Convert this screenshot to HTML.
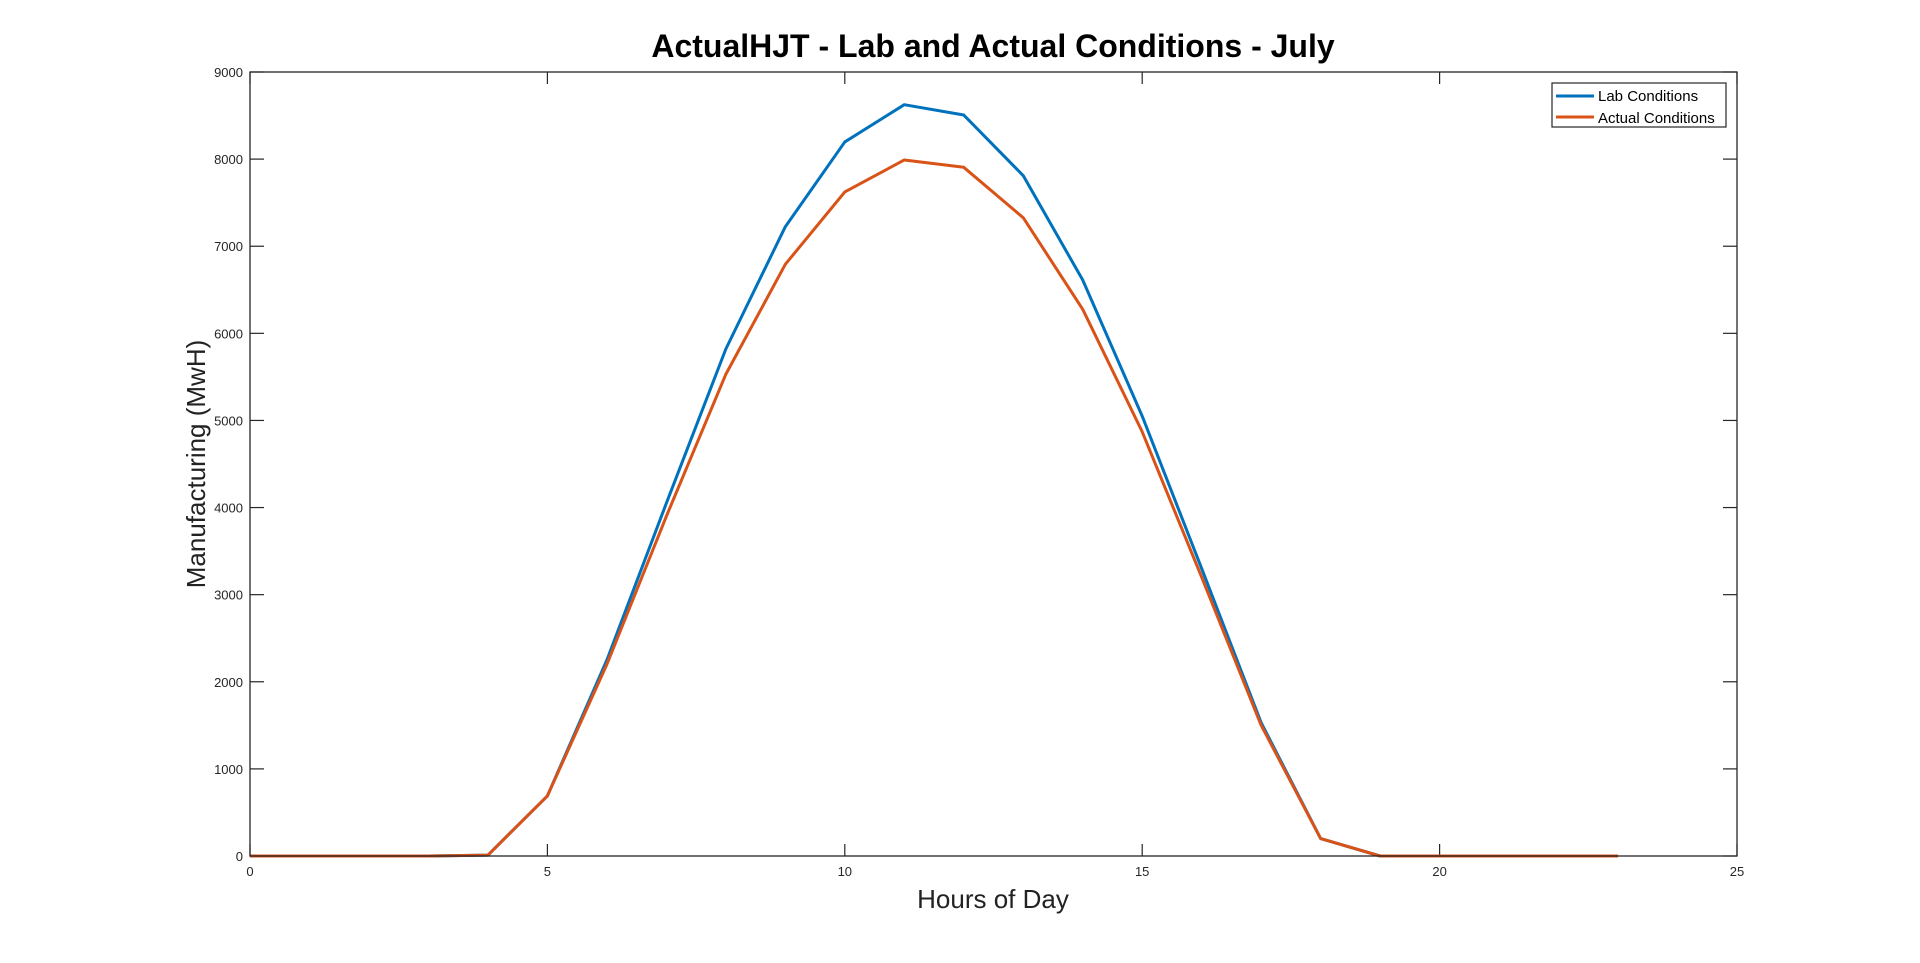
<!DOCTYPE html>
<html><head><meta charset="utf-8"><style>
html,body{margin:0;padding:0;background:#fff;}
svg{display:block;font-family:"Liberation Sans",Arial,sans-serif;}
</style></head><body>
<svg id="chart" width="1920" height="963" viewBox="0 0 1920 963" xmlns="http://www.w3.org/2000/svg">
<rect x="0" y="0" width="1920" height="963" fill="#fff"/>
<text x="993" y="57" text-anchor="middle" font-size="32" font-weight="bold" fill="#000">ActualHJT - Lab and Actual Conditions - July</text>
<text x="993" y="908" text-anchor="middle" font-size="26" fill="#222">Hours of Day</text>
<text transform="translate(205,464) rotate(-90)" text-anchor="middle" font-size="26" fill="#222">Manufacturing (MwH)</text>
<g id="ticks"></g>
<g id="series"></g>
<rect x="250" y="72" width="1487" height="784" fill="none" stroke="#262626" stroke-width="1.3"/>
<g>
<rect x="1552" y="83" width="174" height="44" fill="#fff" stroke="#262626" stroke-width="1.2"/>
<line x1="1556" y1="96" x2="1594" y2="96" stroke="#0072BD" stroke-width="3"/>
<text x="1598" y="101" font-size="15" fill="#000">Lab Conditions</text>
<line x1="1556" y1="117" x2="1594" y2="117" stroke="#D95319" stroke-width="3"/>
<text x="1598" y="123" font-size="15" fill="#000">Actual Conditions</text>
</g>
</svg>
<script>
const hours = [0,1,2,3,4,5,6,7,8,9,10,11,12,13,14,15,16,17,18,19,20,21,22,23];
const labValues = [0,0,0,0,10,690,2250,4050,5820,7224,8197,8625,8506,7810,6612,5050,3300,1530,200,0,0,0,0,0];
const actualValues = [0,0,0,0,10,690,2200,3900,5530,6792,7623,7990,7906,7327,6276,4870,3200,1500,200,0,0,0,0,0];
const xTicks = [0,5,10,15,20,25];
const yTicks = [0,1000,2000,3000,4000,5000,6000,7000,8000,9000];
const L=250,R=1737,T=72,B=856,XMAX=25,YMAX=9000;
const NS="http://www.w3.org/2000/svg";
function xs(v){return L+(v/XMAX)*(R-L);}
function ys(v){return B-(v/YMAX)*(B-T);}
const tg=document.getElementById('ticks');
xTicks.forEach(t=>{
  const x=xs(t);
  [[B,B-12],[T,T+12]].forEach(p=>{
    const l=document.createElementNS(NS,'line');
    l.setAttribute('x1',x);l.setAttribute('x2',x);l.setAttribute('y1',p[0]);l.setAttribute('y2',p[1]);
    l.setAttribute('stroke','#262626');l.setAttribute('stroke-width','1.2');
    
    
    tg.appendChild(l);
  });
  const tx=document.createElementNS(NS,'text');
  tx.setAttribute('x',x);tx.setAttribute('y',B+20);tx.setAttribute('text-anchor','middle');
  tx.setAttribute('font-size','13');tx.setAttribute('fill','#262626');
  tx.textContent=t;
  
  
  tg.appendChild(tx);
});
yTicks.forEach(t=>{
  const y=ys(t);
  [[L,L+14],[R,R-14]].forEach(p=>{
    const l=document.createElementNS(NS,'line');
    l.setAttribute('x1',p[0]);l.setAttribute('x2',p[1]);l.setAttribute('y1',y);l.setAttribute('y2',y);
    l.setAttribute('stroke','#262626');l.setAttribute('stroke-width','1.2');
    
    
    tg.appendChild(l);
  });
  const tx=document.createElementNS(NS,'text');
  tx.setAttribute('x',L-7);tx.setAttribute('y',y+5);tx.setAttribute('text-anchor','end');
  tx.setAttribute('font-size','13');tx.setAttribute('fill','#262626');
  tx.textContent=t;
  
  
  tg.appendChild(tx);
});
const sg=document.getElementById('series');
function line(vals,color,name){
  const p=document.createElementNS(NS,'polyline');
  p.setAttribute('points',vals.map((v,i)=>xs(hours[i])+','+ys(v)).join(' '));
  p.setAttribute('fill','none');p.setAttribute('stroke',color);p.setAttribute('stroke-width','3');
  p.setAttribute('stroke-linejoin','round');
  
  
  sg.appendChild(p);
}
line(labValues,'#0072BD','lab-conditions-line');
line(actualValues,'#D95319','actual-conditions-line');
</script>
</body></html>
